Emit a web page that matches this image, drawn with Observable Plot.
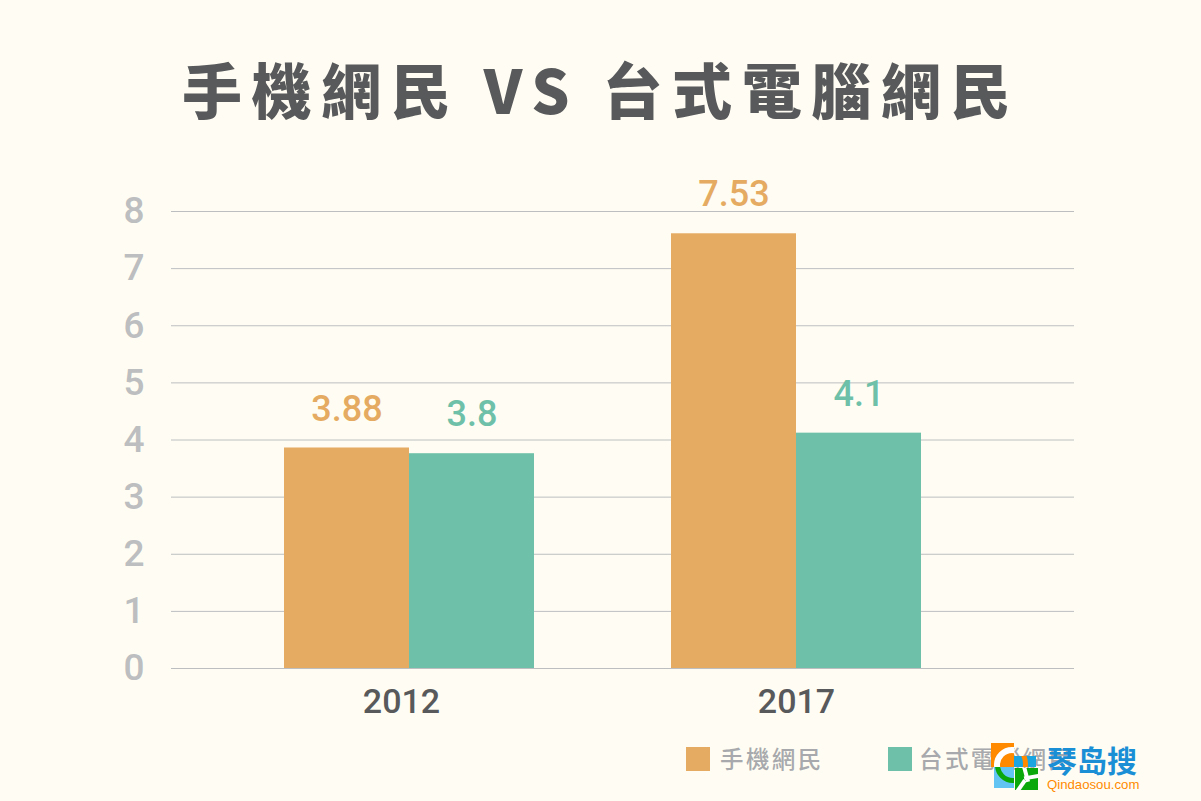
<!DOCTYPE html>
<html><head><meta charset="utf-8">
<script src="https://cdn.jsdelivr.net/npm/d3@7"></script>
<script src="https://cdn.jsdelivr.net/npm/@observablehq/plot@0.6"></script>
<style>
html,body{margin:0;padding:0;background:#fffdf3;width:1201px;height:801px;overflow:hidden;position:relative}
#title{height:170px;box-sizing:border-box;padding-top:48px;padding-left:182px;font:900 60px/80px "Noto Sans CJK TC";color:#58595b;letter-spacing:9.6px;white-space:pre}
#chart svg{display:block;background:transparent}
#legend{position:absolute;top:746px;left:686px;display:flex;font:500 23.5px/25px "Noto Sans CJK TC";color:#a7a9ac;letter-spacing:2.4px}
#legend .item{display:flex;align-items:center;width:202px}
#legend .sw{width:24px;height:24px;margin-right:10px}
#legend .item:nth-child(2) .sw{margin-right:7px}
.wm{position:absolute;overflow:hidden}
.wt{position:absolute;white-space:nowrap}
.ring{position:absolute;box-sizing:border-box;border-radius:50%}
.bar{position:absolute;background:#fff}
</style></head><body>
<div id="title"></div>
<div id="chart"></div>
<div id="legend"></div>
<div class="wm" style="left:1014px;top:756px;width:22px;height:11px;background:#1ba5e0"><div class="ring" style="left:-26px;top:-14px;width:40px;height:44px;border:5px solid #ff8a00"></div></div>
<div class="wm" style="left:991px;top:743px;width:23px;height:24px;background:#ff8a00"><div class="ring" style="left:3px;top:4px;width:36px;height:36px;border:6px solid #fff"></div></div>
<div class="wm" style="left:994px;top:767px;width:20px;height:21px;background:#62c4f2"><div class="ring" style="left:1px;top:-20px;width:36px;height:36px;border:5px solid #0aa80a"></div></div>
<div class="wm" style="left:1015px;top:768px;width:23px;height:22px;background:#0aa80a">
  <div class="bar" style="left:9px;top:-2px;width:4px;height:16px;transform:rotate(-15deg)"></div>
  <div class="bar" style="left:9px;top:7px;width:16px;height:4px;transform:rotate(-10deg)"></div>
  <div class="bar" style="left:4px;top:11px;width:4px;height:14px;transform:rotate(35deg)"></div>
</div>
<div class="wt" style="left:1047px;top:741px;font:700 30px/36px 'Noto Sans CJK SC';color:#1a8fd6">琴岛搜</div>
<div class="wt" style="left:1047px;top:776px;font:400 13.2px/17px 'Liberation Sans';color:#ff8a00">Qindaosou.com</div>
<script>
const titleText = "手機網民 VS 台式電腦網民";
const years = ["2012", "2017"];
const seriesNames = ["手機網民", "台式電腦網民"];
const seriesColors = ["#e5ab62", "#6ec0a8"];
const mobileBars = [3.86, 7.61];
const desktopBars = [3.76, 4.12];
const mobileLabels = ["3.88", "7.53"];
const desktopLabels = ["3.8", "4.1"];
const yTicks = [0, 1, 2, 3, 4, 5, 6, 7, 8];

document.getElementById("title").textContent = titleText;

const mobile = years.map((year, i) => ({year, value: mobileBars[i], label: mobileLabels[i]}));
const desktop = years.map((year, i) => ({year, value: desktopBars[i], label: desktopLabels[i]}));
const numFont = {fontFamily: "Roboto", fontWeight: 500, fontSize: 36};
const xAxisStyle = {tickSize: 0, tickPadding: 20, label: null, fill: "#58595b", fontFamily: "Roboto", fontWeight: 500, fontSize: 34};

const plot = Plot.plot({
  width: 1201, height: 560,
  marginLeft: 171, marginRight: 127, marginTop: 41, marginBottom: 62,
  style: {background: "transparent"},
  x: {domain: years, paddingInner: 0.354, paddingOuter: 0.3435, align: 0.425, label: null},
  y: {domain: [0, 8], label: null},
  marks: [
    Plot.ruleY(yTicks, {stroke: "#bcbec0", strokeWidth: 1, strokeOpacity: 1}),
    Plot.barY(mobile, {x: "year", y: "value", fill: seriesColors[0], insetRight: 125}),
    Plot.barY(desktop, {x: "year", y: "value", fill: seriesColors[1], insetLeft: 125}),
    Plot.text(mobile, {x: "year", y: "value", text: "label", dx: -62.5, dy: -39, fill: seriesColors[0], ...numFont}),
    Plot.text(desktop, {x: "year", y: "value", text: "label", dx: 62.5, dy: -39, fill: seriesColors[1], ...numFont}),
    Plot.axisY(yTicks, {tickSize: 0, tickPadding: 27, label: null, fill: "#bcbec0", ...numFont, fontSize: 37, tickFormat: d => String(d)}),
    Plot.axisX([years[0]], {...xAxisStyle, dx: -8}),
    Plot.axisX([years[1]], {...xAxisStyle})
  ]
});
document.getElementById("chart").append(plot);

const legend = document.getElementById("legend");
seriesNames.forEach((name, i) => {
  const item = document.createElement("div"); item.className = "item";
  const sw = document.createElement("div"); sw.className = "sw"; sw.style.background = seriesColors[i];
  const t = document.createElement("span"); t.textContent = name; t.style.whiteSpace = "nowrap";
  item.append(sw, t); legend.append(item);
});
</script>
</body></html>
